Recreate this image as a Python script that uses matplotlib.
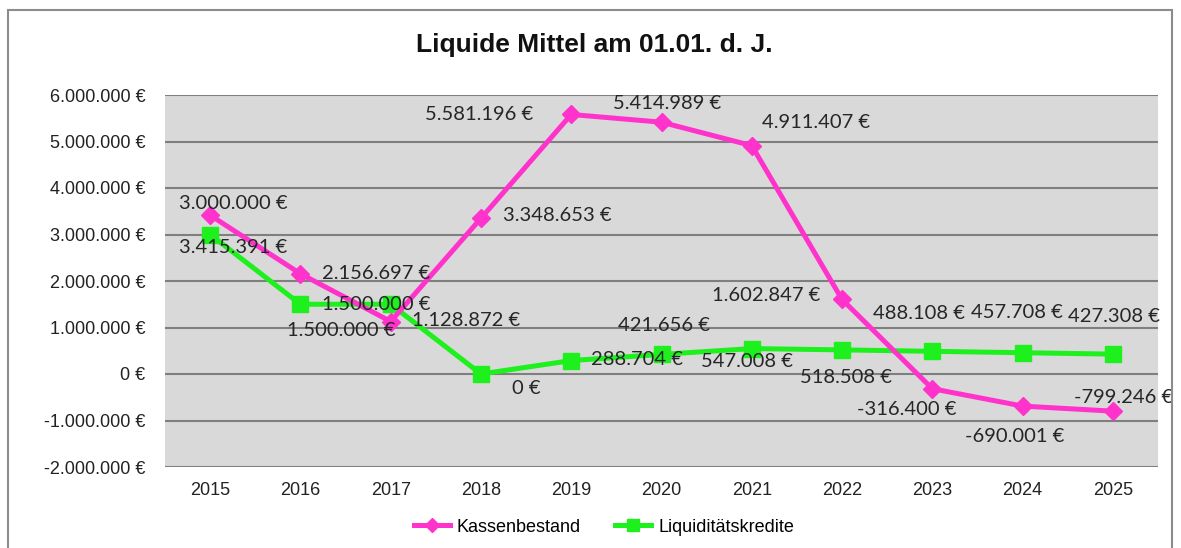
import matplotlib
matplotlib.use("Agg")
import matplotlib.pyplot as plt
from matplotlib.patches import Rectangle
from matplotlib.ticker import FuncFormatter, MultipleLocator

# Daten
jahre = ["2015", "2016", "2017", "2018", "2019", "2020", "2021", "2022", "2023", "2024", "2025"]
kassenbestand = [3415391, 2156697, 1128872, 3348653, 5581196, 5414989, 4911407, 1602847, -316400, -690001, -799246]
liquiditaetskredite = [3000000, 1500000, 1500000, 0, 288704, 421656, 547008, 518508, 488108, 457708, 427308]

# Label-Versatz in Pixeln (dx, dy nach unten positiv)
off_kasse = [(23, 32), (76, 0), (75, -1), (76, -3), (-92, 0), (6, -19), (64, -23), (-76, -4), (-26, 21), (-8, 30), (11, -14)]
off_kredit = [(23, -31), (76, 0), (-49, 26), (45, 15), (66, -1), (3, -29), (-5, 13), (4, 28), (-13, -38), (-6, -40), (1, -38)]

PINK = "#ff33cc"
GREEN = "#1ef01e"


def euro(v, pos=None):
    s = f"{int(round(v)):,}".replace(",", ".")
    return s + " €"


fig = plt.figure(figsize=(11.81, 5.48), dpi=100)
ax = fig.add_axes([165 / 1181, 1 - 467 / 548, (1158 - 165) / 1181, (467 - 95) / 548])
ax.set_facecolor("#d9d9d9")

x = list(range(len(jahre)))
ax.plot(x, kassenbestand, color=PINK, lw=3.6, marker="D", ms=9, label="Kassenbestand", zorder=4)
ax.plot(x, liquiditaetskredite, color=GREEN, lw=3.6, marker="s", ms=11, label="Liquiditätskredite", zorder=3)

for i, v in enumerate(kassenbestand):
    dx, dy = off_kasse[i]
    ax.annotate(euro(v), (i, v), xytext=(dx, -dy), textcoords="offset pixels",
                ha="center", va="center", fontsize=14.5, family="Lato", color="#262626",
                zorder=6, annotation_clip=False)
for i, v in enumerate(liquiditaetskredite):
    dx, dy = off_kredit[i]
    ax.annotate(euro(v), (i, v), xytext=(dx, -dy), textcoords="offset pixels",
                ha="center", va="center", fontsize=14.5, family="Lato", color="#262626",
                zorder=6, annotation_clip=False)

ax.set_xlim(-0.5, len(jahre) - 0.5)
ax.set_ylim(-2000000, 6000000)
ax.yaxis.set_major_locator(MultipleLocator(1000000))
ax.yaxis.set_major_formatter(FuncFormatter(euro))
ax.set_xticks(x)
ax.set_xticklabels(jahre)
ax.grid(axis="y", color="#7f7f7f", lw=1.5, zorder=1)
ax.set_axisbelow(True)
for s in ax.spines.values():
    s.set_visible(False)
ax.tick_params(axis="both", length=0, labelsize=13, colors="#222222")
ax.tick_params(axis="y", pad=14)
ax.tick_params(axis="x", pad=11)
for lab in ax.get_xticklabels() + ax.get_yticklabels():
    lab.set_family("Liberation Sans")

fig.text(594 / 1181, 1 - 45 / 548, "Liquide Mittel am 01.01. d. J.", ha="center", va="center",
         fontsize=19, fontweight="bold", family="Liberation Sans", color="#111111")

leg = fig.legend(loc="center", bbox_to_anchor=(604 / 1181, 1 - 527 / 548), ncol=2, frameon=False,
                 prop={"family": "Liberation Sans", "size": 13}, handlelength=2.0,
                 handletextpad=0.4, columnspacing=1.9, markerscale=0.8)

fig.patches.append(Rectangle((8 / 1181, -0.02), 1164 / 1181, (538 / 548) + 0.02, transform=fig.transFigure,
                             fill=False, edgecolor="#8c8c8c", lw=1.5))

fig.savefig("out.png", dpi=100)
